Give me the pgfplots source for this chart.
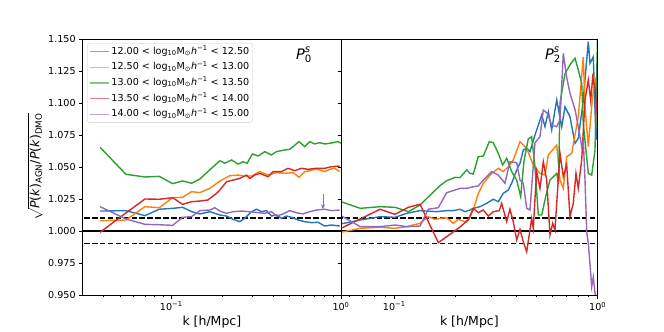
\documentclass[border=0pt]{standalone}
\usepackage{fontspec}
\setmainfont{DejaVu Sans}
\usepackage{amsmath}
\usepackage{pgfplots}
\pgfplotsset{compat=1.18}
\usetikzlibrary{arrows.meta}
\definecolor{c0}{HTML}{1F77B4}
\definecolor{c1}{HTML}{FF7F0E}
\definecolor{c2}{HTML}{2CA02C}
\definecolor{c3}{HTML}{D62728}
\definecolor{c4}{HTML}{9467BD}

\newcommand{\lmass}[2]{#1 < log\textsubscript{10}M\textsubscript{⊙}\textit{h}\textsuperscript{−1} < #2}
\newcommand{\tfont}{\fontsize{9.6}{11}\selectfont}

\begin{document}
\begin{tikzpicture}
\path[use as bounding box] (0pt,0pt) rectangle (664pt,332pt);

% left panel: monopole
\begin{axis}[
  xmode=log, scale only axis, height=256pt, anchor=south west,
  at={(82.7pt,37pt)}, width=258.3pt,
  xmin=0.0301, xmax=1, ymin=0.95, ymax=1.15,
  ytick={0.95,0.975,1.0,1.025,1.05,1.075,1.1,1.125,1.15},
  xtick={0.1,1}, xticklabels={10\textsuperscript{−1},10\textsuperscript{0}},
  minor xtick={0.04,0.05,0.06,0.07,0.08,0.09,0.2,0.3,0.4,0.5,0.6,0.7,0.8,0.9},
  tick align=outside, xtick pos=bottom, ytick pos=left,
  major tick length=3.5pt, minor tick length=2pt,
  tick style={black, line width=0.8pt},
  axis line style={black, line width=0.8pt},
  axis on top,
  xticklabel style={font=\tfont},
  yticklabel style={font=\tfont},
  y tick label style={/pgf/number format/fixed, /pgf/number format/fixed zerofill, /pgf/number format/precision=3, /pgf/number format/assume math mode=true},
  xlabel={k [h/Mpc]},
  xlabel style={font=\fontsize{12.5}{14}\selectfont, at={(axis description cs:0.5,-0.104)}, anchor=center},
  ylabel={$\sqrt{\text{\textit{P}(\textit{k})\textsubscript{AGN}/\textit{P}(\textit{k})\textsubscript{DMO}}}$},
  ylabel style={font=\fontsize{12.5}{14}\selectfont, at={(axis description cs:-0.184,0.5)}, anchor=center},
  legend cell align=left,
  legend image code/.code={\draw[#1, line width=1.4pt, opacity=0.6] (0pt,0pt) -- (19pt,0pt);},
  legend style={at={(0.0178,0.983)}, anchor=north west,
    draw=black!20, fill=white, rounded corners=2pt,
    font=\tfont,
    inner xsep=2pt, inner ysep=1.5pt, row sep=2.7pt,
    nodes={text height=7.5pt, text depth=2.5pt, inner sep=1.5pt}},
]
\addplot[black!40, line width=2.8pt, opacity=0.45, forget plot] coordinates {(0.02,1) (1.1,1)};
\addplot[black, line width=1.2pt, forget plot] coordinates {(0.02,1) (1.1,1)};
\addplot[black, line width=1.4pt, dash pattern=on 5.5pt off 2.4pt, forget plot] coordinates {(0.02,1.01) (1.1,1.01)};
\addplot[black, line width=1.4pt, dash pattern=on 5.5pt off 2.4pt, forget plot] coordinates {(0.02,0.99) (1.1,0.99)};

\addplot[c0, line width=1.4pt] coordinates {
(0.0381,1.0156) (0.0541,1.0159) (0.0700,1.0120) (0.0850,1.0170) (0.1019,1.0177)
(0.1167,1.0185) (0.1318,1.0151) (0.1475,1.0133) (0.1689,1.0151) (0.1934,1.0125)
(0.2118,1.0117) (0.2316,1.0091) (0.2535,1.0073) (0.2713,1.0099) (0.2972,1.0151)
(0.3180,1.0170) (0.3403,1.0151) (0.3640,1.0159) (0.3897,1.0117) (0.4169,1.0125)
(0.4461,1.0099) (0.4774,1.0117) (0.5108,1.0107) (0.5587,1.0086) (0.6115,1.0073)
(0.6696,1.0065) (0.7324,1.0068) (0.8019,1.0039) (0.8781,1.0047) (0.9826,1.0039)
};
\addlegendentry{\lmass{12.00}{12.50}}
\addplot[c1, line width=1.4pt] coordinates {
(0.0381,1.0081) (0.0541,1.0086) (0.0700,1.0190) (0.0850,1.0182) (0.1019,1.0260)
(0.1167,1.0263) (0.1318,1.0307) (0.1475,1.0300) (0.1689,1.0333) (0.1934,1.0390)
(0.2215,1.0432) (0.2477,1.0437) (0.2651,1.0430) (0.2972,1.0430) (0.3325,1.0464)
(0.3720,1.0437) (0.4169,1.0456) (0.4665,1.0451) (0.5220,1.0456) (0.5663,1.0420)
(0.6115,1.0464) (0.6544,1.0471) (0.7004,1.0482) (0.7494,1.0477) (0.8019,1.0464)
(0.8581,1.0482) (0.9181,1.0490) (0.9826,1.0464)
};
\addlegendentry{\lmass{12.50}{13.00}}
\addplot[c2, line width=1.4pt] coordinates {
(0.0381,1.0654) (0.0541,1.0443) (0.0700,1.0422) (0.0850,1.0427) (0.1019,1.0370)
(0.1167,1.0391) (0.1318,1.0373) (0.1475,1.0406) (0.1643,1.0464) (0.1934,1.0549)
(0.2069,1.0529) (0.2266,1.0555) (0.2477,1.0523) (0.2651,1.0541) (0.2799,1.0529)
(0.3012,1.0602) (0.3250,1.0586) (0.3557,1.0620) (0.3897,1.0594) (0.4169,1.0620)
(0.4665,1.0633) (0.4991,1.0638) (0.5663,1.0698) (0.6115,1.0659) (0.6544,1.0698)
(0.7004,1.0680) (0.7494,1.0690) (0.8019,1.0680) (0.8581,1.0685) (0.9603,1.0698)
(1.0055,1.0685)
};
\addlegendentry{\lmass{13.00}{13.50}}
\addplot[c3, line width=1.4pt] coordinates {
(0.0381,0.9990) (0.0541,1.0141) (0.0700,1.0250) (0.0850,1.0248) (0.1019,1.0260)
(0.1167,1.0208) (0.1318,1.0229) (0.1475,1.0234) (0.1643,1.0242) (0.1849,1.0294)
(0.1934,1.0320) (0.2118,1.0385) (0.2316,1.0398) (0.2535,1.0411) (0.2776,1.0437)
(0.2904,1.0411) (0.3108,1.0437) (0.3325,1.0450) (0.3720,1.0424) (0.3981,1.0464)
(0.4461,1.0464) (0.4878,1.0490) (0.5342,1.0471) (0.5848,1.0490) (0.6395,1.0482)
(0.7167,1.0490) (0.8019,1.0490) (0.8781,1.0502) (0.9826,1.0508)
};
\addlegendentry{\lmass{13.50}{14.00}}
\addplot[c4, line width=1.4pt] coordinates {
(0.0381,1.0190) (0.0541,1.0094) (0.0700,1.0052) (0.0850,1.0049) (0.1019,1.0044)
(0.1167,1.0107) (0.1318,1.0112) (0.1475,1.0159) (0.1689,1.0164) (0.1807,1.0182)
(0.1934,1.0156) (0.2118,1.0138) (0.2316,1.0151) (0.2594,1.0156) (0.2904,1.0151)
(0.3250,1.0143) (0.3557,1.0138) (0.3897,1.0151) (0.4169,1.0117) (0.4559,1.0133)
(0.4991,1.0159) (0.5466,1.0143) (0.5976,1.0133) (0.6544,1.0151) (0.7167,1.0164)
(0.8019,1.0170) (0.8781,1.0159) (0.9826,1.0164)
};
\addlegendentry{\lmass{14.00}{15.00}}
\addplot[c4, line width=0.9pt, -{Stealth[length=5pt,width=4pt]}, forget plot] coordinates {(0.784,1.0290) (0.784,1.0170)};

\node[font=\fontsize{14.5}{16}\selectfont] at (rel axis cs:0.857,0.9375) {$\text{\textit{P}}^{\text{\textit{s}}}_{\text{0}}$};
\end{axis}

% right panel: quadrupole
\begin{axis}[
  xmode=log, scale only axis, height=256pt, anchor=south west,
  at={(341pt,37pt)}, width=256.7pt,
  xmin=0.0547, xmax=1, ymin=0.95, ymax=1.15,
  ytick={0.95,0.975,1.0,1.025,1.05,1.075,1.1,1.125,1.15},
  yticklabels={},
  xtick={0.1,1}, xticklabels={10\textsuperscript{−1},10\textsuperscript{0}},
  minor xtick={0.06,0.07,0.08,0.09,0.2,0.3,0.4,0.5,0.6,0.7,0.8,0.9},
  tick align=outside, xtick pos=bottom, ytick pos=left,
  major tick length=3.5pt, minor tick length=2pt,
  tick style={black, line width=0.8pt},
  axis line style={black, line width=0.8pt},
  axis on top,
  xticklabel style={font=\tfont},
  xlabel={k [h/Mpc]},
  xlabel style={font=\fontsize{12.5}{14}\selectfont, at={(axis description cs:0.5,-0.104)}, anchor=center},
]
\addplot[black!40, line width=2.8pt, opacity=0.45, forget plot] coordinates {(0.04,1) (1.1,1)};
\addplot[black, line width=1.2pt, forget plot] coordinates {(0.04,1) (1.1,1)};
\addplot[black, line width=1.4pt, dash pattern=on 5.5pt off 2.4pt, forget plot] coordinates {(0.04,1.01) (1.1,1.01)};
\addplot[black, line width=1.4pt, dash pattern=on 5.5pt off 2.4pt, forget plot] coordinates {(0.04,0.99) (1.1,0.99)};

\addplot[c0, line width=1.4pt] coordinates {
(0.0547,1.0055) (0.0680,1.0086) (0.0851,1.0112) (0.1008,1.0107) (0.1151,1.0138)
(0.1338,1.0159) (0.1616,1.0151) (0.1809,1.0159) (0.1950,1.0159) (0.2104,1.0170)
(0.2226,1.0151) (0.2356,1.0164) (0.2445,1.0177) (0.2638,1.0190) (0.2847,1.0216)
(0.3067,1.0248) (0.3245,1.0229) (0.3435,1.0294) (0.3636,1.0320) (0.3792,1.0380)
(0.3998,1.0477) (0.4149,1.0529) (0.4307,1.0633) (0.4476,1.0646) (0.4646,1.0620)
(0.4917,1.0750) (0.5306,1.0906) (0.5506,1.0815) (0.5716,1.0932) (0.5940,1.0790)
(0.6287,1.1023) (0.6652,1.0815) (0.6906,1.0970) (0.7308,1.0893) (0.7734,1.0685)
(0.8028,1.0724) (0.8467,1.1000) (0.8990,1.1480) (0.9165,1.1310) (0.9515,1.1360)
(0.9810,1.0710) (0.9977,1.1000)
};
\addplot[c1, line width=1.4pt] coordinates {
(0.0547,0.9990) (0.0680,1.0021) (0.0851,1.0029) (0.1008,1.0021) (0.1151,1.0034)
(0.1338,1.0060) (0.1470,1.0112) (0.1585,1.0091) (0.1677,1.0099) (0.1809,1.0104)
(0.1950,1.0060) (0.2064,1.0091) (0.2226,1.0073) (0.2311,1.0086) (0.2445,1.0164)
(0.2588,1.0294) (0.2740,1.0373) (0.3012,1.0450) (0.3245,1.0490) (0.3435,1.0464)
(0.3636,1.0502) (0.3847,1.0555) (0.4149,1.0698) (0.4476,1.0646) (0.4646,1.0580)
(0.4825,1.0516) (0.5203,1.0450) (0.5506,1.0437) (0.5716,1.0594) (0.6287,1.0672)
(0.6526,1.0400) (0.6775,1.0333) (0.7040,1.0580) (0.7453,1.0607) (0.8028,1.0893)
(0.8495,1.1360) (0.8662,1.0970) (0.8990,1.0660) (0.9376,1.1000) (0.9698,1.1200)
(0.9977,1.0800)
};
\addplot[c2, line width=1.4pt] coordinates {
(0.0547,1.0229) (0.0680,1.0177) (0.0851,1.0190) (0.1008,1.0185) (0.1172,1.0151)
(0.1338,1.0203) (0.1677,1.0354) (0.1809,1.0393) (0.1988,1.0419) (0.2104,1.0417)
(0.2270,1.0477) (0.2356,1.0451) (0.2445,1.0445) (0.2588,1.0580) (0.2740,1.0586)
(0.2931,1.0698) (0.3067,1.0690) (0.3245,1.0607) (0.3412,1.0516) (0.3570,1.0568)
(0.3777,1.0464) (0.3998,1.0398) (0.4182,1.0268) (0.4342,1.0550) (0.4559,1.0720)
(0.4736,1.0737) (0.4917,1.0500) (0.5105,1.0125) (0.5306,1.0125) (0.5571,1.0280)
(0.5827,1.0398) (0.6287,1.0450) (0.6417,1.0370) (0.6526,1.0998) (0.6906,1.1230)
(0.7308,1.1297) (0.7734,1.1350) (0.8028,1.1258) (0.8343,1.1154) (0.8495,1.0840)
(0.8990,1.0450) (0.9343,1.0437) (0.9698,1.0630) (0.9977,1.1500)
};
\addplot[c3, line width=1.4pt] coordinates {
(0.0547,1.0021) (0.0851,1.0170) (0.1008,1.0130) (0.1172,1.0185) (0.1338,1.0209)
(0.1646,0.9909) (0.2064,1.0021) (0.2311,1.0086) (0.2445,1.0177) (0.2588,1.0143)
(0.2740,1.0164) (0.2899,1.0117) (0.3067,1.0151) (0.3283,1.0159) (0.3373,1.0216)
(0.3570,1.0073) (0.3704,1.0170) (0.3847,1.0073) (0.3998,0.9930) (0.4149,1.0013)
(0.4307,0.9916) (0.4476,0.9838) (0.4646,1.0008) (0.4736,1.0099) (0.4825,1.0021)
(0.4917,1.0255) (0.5013,1.0464) (0.5203,1.0333) (0.5401,1.0541) (0.5615,1.0398)
(0.5827,0.9969) (0.6009,1.0060) (0.6166,1.0008) (0.6526,1.0607) (0.6775,1.0424)
(0.7040,1.0516) (0.7308,1.0112) (0.7586,1.0216) (0.7822,1.0450) (0.8028,1.0333)
(0.8343,1.0555) (0.8662,1.1023) (0.8990,1.1180) (0.9239,1.1020) (0.9449,1.1200)
(0.9698,1.1115) (0.9977,1.0900)
};
\addplot[c4, line width=1.4pt] coordinates {
(0.0547,1.0120) (0.0680,1.0034) (0.0851,1.0034) (0.1008,1.0047) (0.1151,1.0034)
(0.1338,1.0039) (0.1470,1.0170) (0.1646,1.0182) (0.1809,1.0299) (0.1988,1.0320)
(0.2104,1.0333) (0.2270,1.0333) (0.2445,1.0346) (0.2588,1.0352) (0.2740,1.0398)
(0.3012,1.0464) (0.3245,1.0437) (0.3501,1.0373) (0.3704,1.0541) (0.3998,1.0534)
(0.4149,1.0398) (0.4307,1.0373) (0.4476,1.0177) (0.4646,1.0164) (0.4917,1.0690)
(0.5203,1.0737) (0.5401,1.0945) (0.5651,1.0920) (0.5940,1.0828) (0.6287,1.0815)
(0.6526,1.0867) (0.6775,1.1388) (0.7040,1.1200) (0.7308,1.1076) (0.7734,1.0950)
(0.8028,1.0815) (0.8343,1.0660) (0.8495,1.0710) (0.8662,1.0400) (0.8829,0.9995)
(0.8990,0.9904) (0.9239,0.9670) (0.9343,0.9565) (0.9515,0.9640) (0.9698,0.9516)
(0.9865,0.9400)
};

\node[font=\fontsize{14.5}{16}\selectfont] at (rel axis cs:0.826,0.9375) {$\text{\textit{P}}^{\text{\textit{s}}}_{\text{2}}$};
\end{axis}
\end{tikzpicture}
\end{document}
